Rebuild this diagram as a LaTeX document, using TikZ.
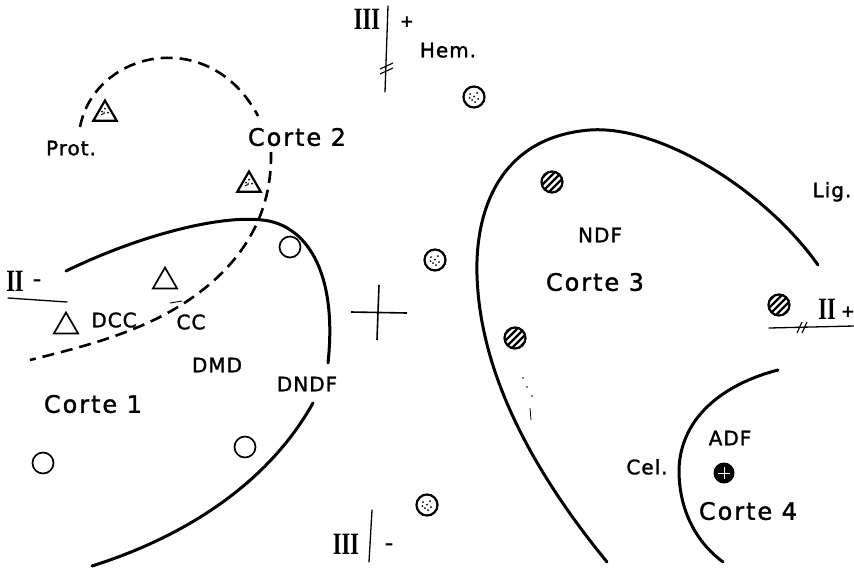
\documentclass[tikz,border=0pt]{standalone}
\usepackage{fontspec}
\usepackage{graphicx}
\usetikzlibrary{shapes.geometric,calc}
\newfontfamily\labf[LetterSpace=5,FakeBold=1.5]{DejaVu Sans}
\newfontfamily\cortef[LetterSpace=8,FakeBold=1.5]{DejaVu Sans}
\newfontfamily\signf{DejaVu Sans}
\newfontfamily\romf{Liberation Serif}
\begin{document}
\begin{tikzpicture}[x=1pt,y=-1pt,
  curve/.style={line width=3pt, line cap=round},
  dcurve/.style={line width=2.6pt, dash pattern=on 12pt off 7pt},
  thinl/.style={line width=1.3pt, line cap=round},
  lab/.style={inner sep=0pt, text height=14.6pt, text depth=0pt, font=\labf\fontsize{20}{20}\selectfont},
  slab/.style={inner sep=0pt, text height=14.6pt, text depth=0pt, font=\labf\fontsize{20}{20}\selectfont},
  corte/.style={inner sep=0pt, text height=17.5pt, text depth=0pt, font=\cortef\fontsize{24}{24}\selectfont},
  rom/.style={inner sep=0pt, text height=20.5pt, text depth=0pt, font=\romf\bfseries\fontsize{31}{31}\selectfont},
  sign/.style={inner sep=0pt, font=\signf\bfseries\fontsize{17}{17}\selectfont},
  ocirc/.style={circle, draw, line width=1.7pt, minimum size=21pt, inner sep=0pt},
  hcirc/.style={circle, draw, line width=2.2pt, minimum size=21pt, inner sep=0pt,
    path picture={\foreach \i in {-14,-7,0,7,14}{\draw[line width=2.3pt] ($(path picture bounding box.center)+(\i pt-12pt,-12pt)$) -- ++(24pt,24pt);}}},
  scirc/.style={circle, draw, line width=2.2pt, minimum size=21pt, inner sep=0pt,
    path picture={\foreach \a/\b in {-4/3,3/4,-2/-3,4/-2,0/0.5,-4.5/-1,1/-5}{\fill ($(path picture bounding box.center)+(\a pt,\b pt)$) circle (1pt);}}},
  fcirc/.style={circle, fill=black, minimum size=21pt, inner sep=0pt,
    path picture={\draw[white, line width=0.8pt] ($(path picture bounding box.center)+(-6pt,0pt)$) -- ++(12pt,0pt);
      \draw[white, line width=0.8pt] ($(path picture bounding box.center)+(0pt,-6pt)$) -- ++(0pt,12pt);}},
  otri/.style={regular polygon, regular polygon sides=3, draw, line width=1.7pt, minimum size=28pt, inner sep=0pt},
  stri/.style={regular polygon, regular polygon sides=3, draw, line width=2.2pt, minimum size=27pt, inner sep=0pt,
    path picture={\fill ($(path picture bounding box.center)+(-3pt,-1pt)$) circle (1.1pt);
      \fill ($(path picture bounding box.center)+(3pt,-2pt)$) circle (1.1pt);
      \draw[line width=1pt] ($(path picture bounding box.center)+(-4pt,-4pt)$) -- ++(3pt,1pt) -- ++(0pt,2pt);
      \fill ($(path picture bounding box.center)+(0pt,2pt)$) circle (0.9pt);}},
]
\useasboundingbox (0,0) rectangle (854,571);

% ---- Corte 1 (solid)
\draw[curve] (66,271) .. controls (140,235) and (220,215) .. (262,220)
             .. controls (305,224) and (338,270) .. (328,363);
\draw[curve] (313,403) .. controls (270,480) and (190,535) .. (92,566);

% ---- Corte 2 (dashed)
\draw[dcurve] (80,127) .. controls (95,50) and (210,25) .. (258,116);
\draw[dcurve] (271,152) .. controls (272,200) and (255,250) .. (200,292)
              .. controls (150,330) and (90,345) .. (30,360);
\draw[line width=0.9pt] (170,303) -- (182,301);

% ---- Corte 3 (solid)
\draw[curve] (818,265) .. controls (765,190) and (660,125) .. (590,130)
             .. controls (500,137) and (475,210) .. (477,275)
             .. controls (480,380) and (540,480) .. (607,562);

% ---- Corte 4 (solid)
\draw[curve] (778,370) .. controls (720,385) and (680,420) .. (679,470)
             .. controls (679,515) and (700,545) .. (723,562);

% ---- centre cross
\draw[line width=1.6pt] (351,312) -- (407,313);
\draw[line width=1.6pt] (379,285) -- (377,340);

% ---- axis III
\draw[thinl] (388,6) -- (385,92);
\draw[line width=1.1pt] (380,69) -- (393,63);
\draw[line width=1.1pt] (380,74) -- (393,68);
\draw[thinl] (372,510) -- (369,562);

% ---- axis II
\draw[thinl] (8,298) -- (67,302);
\draw[thinl] (769,328) -- (854,326);
\draw[line width=1.1pt] (797,333) -- (802,322);
\draw[line width=1.1pt] (802,333) -- (807,322);

% ---- small dots
\fill (523,378) circle (0.9pt);
\fill (527,387) circle (0.9pt);
\fill (532,396) circle (0.9pt);
\draw[line width=0.8pt] (530,408) -- (531,420);

% ---- symbols
\node[ocirc] (o1) at (290,247) {};
\node[ocirc] (o2) at (245,447) {};
\node[ocirc] (o3) at (43,463) {};
\node[scirc] (s1) at (474,97) {};
\node[scirc] (s2) at (435,260) {};
\node[scirc] (s3) at (427,505) {};
\node[hcirc] (h1) at (552,182) {};
\node[hcirc] (h2) at (779,305) {};
\node[hcirc] (h3) at (515,338) {};
\node[fcirc] (f1) at (724,473) {};
\node[otri] (t1) at (165,281.5) {};
\node[otri] (t2) at (66,326.5) {};
\node[stri] (st1) at (105,114) {};
\node[stri] (st2) at (249,185) {};

% ---- labels
\node[slab] (prot) at (71,148) {Prot.};
\node[corte] (c2) at (297,137) {Corte 2};
\node[corte] (c1) at (93,404) {Corte 1};
\node[corte] (c3) at (595,282) {Corte 3};
\node[corte] (c4) at (748,511) {Corte 4};
\node[lab] (dcc) at (114,320) {DCC};
\node[lab] (cc) at (191,322) {CC};
\node[lab] (dmd) at (217,365) {DMD};
\node[lab] (dndf) at (307,384) {DNDF};
\node[lab] (ndf) at (600,235) {NDF};
\node[lab] (adf) at (730,438) {ADF};
\node[slab] (cel) at (647,467) {Cel.};
\node[slab] (hem) at (448,50) {Hem.};
\node[slab] (lig) at (832,190) {Lig.};

\node[rom] (r3t) at (367,19) {\scalebox{0.72}[1]{III}};
\node[rom] (r3b) at (346,544) {\scalebox{0.72}[1]{III}};
\node[rom] (r2l) at (15,281) {\scalebox{0.72}[1]{II}};
\node[rom] (r2r) at (827,309) {\scalebox{0.72}[1]{II}};

\node[sign] (pt) at (407,22) {+};
\node[sign] (pr) at (848,312) {+};
\node[sign] (ml) at (37,283) {–};
\node[sign] (mb) at (389,547) {–};
\end{tikzpicture}
\end{document}
